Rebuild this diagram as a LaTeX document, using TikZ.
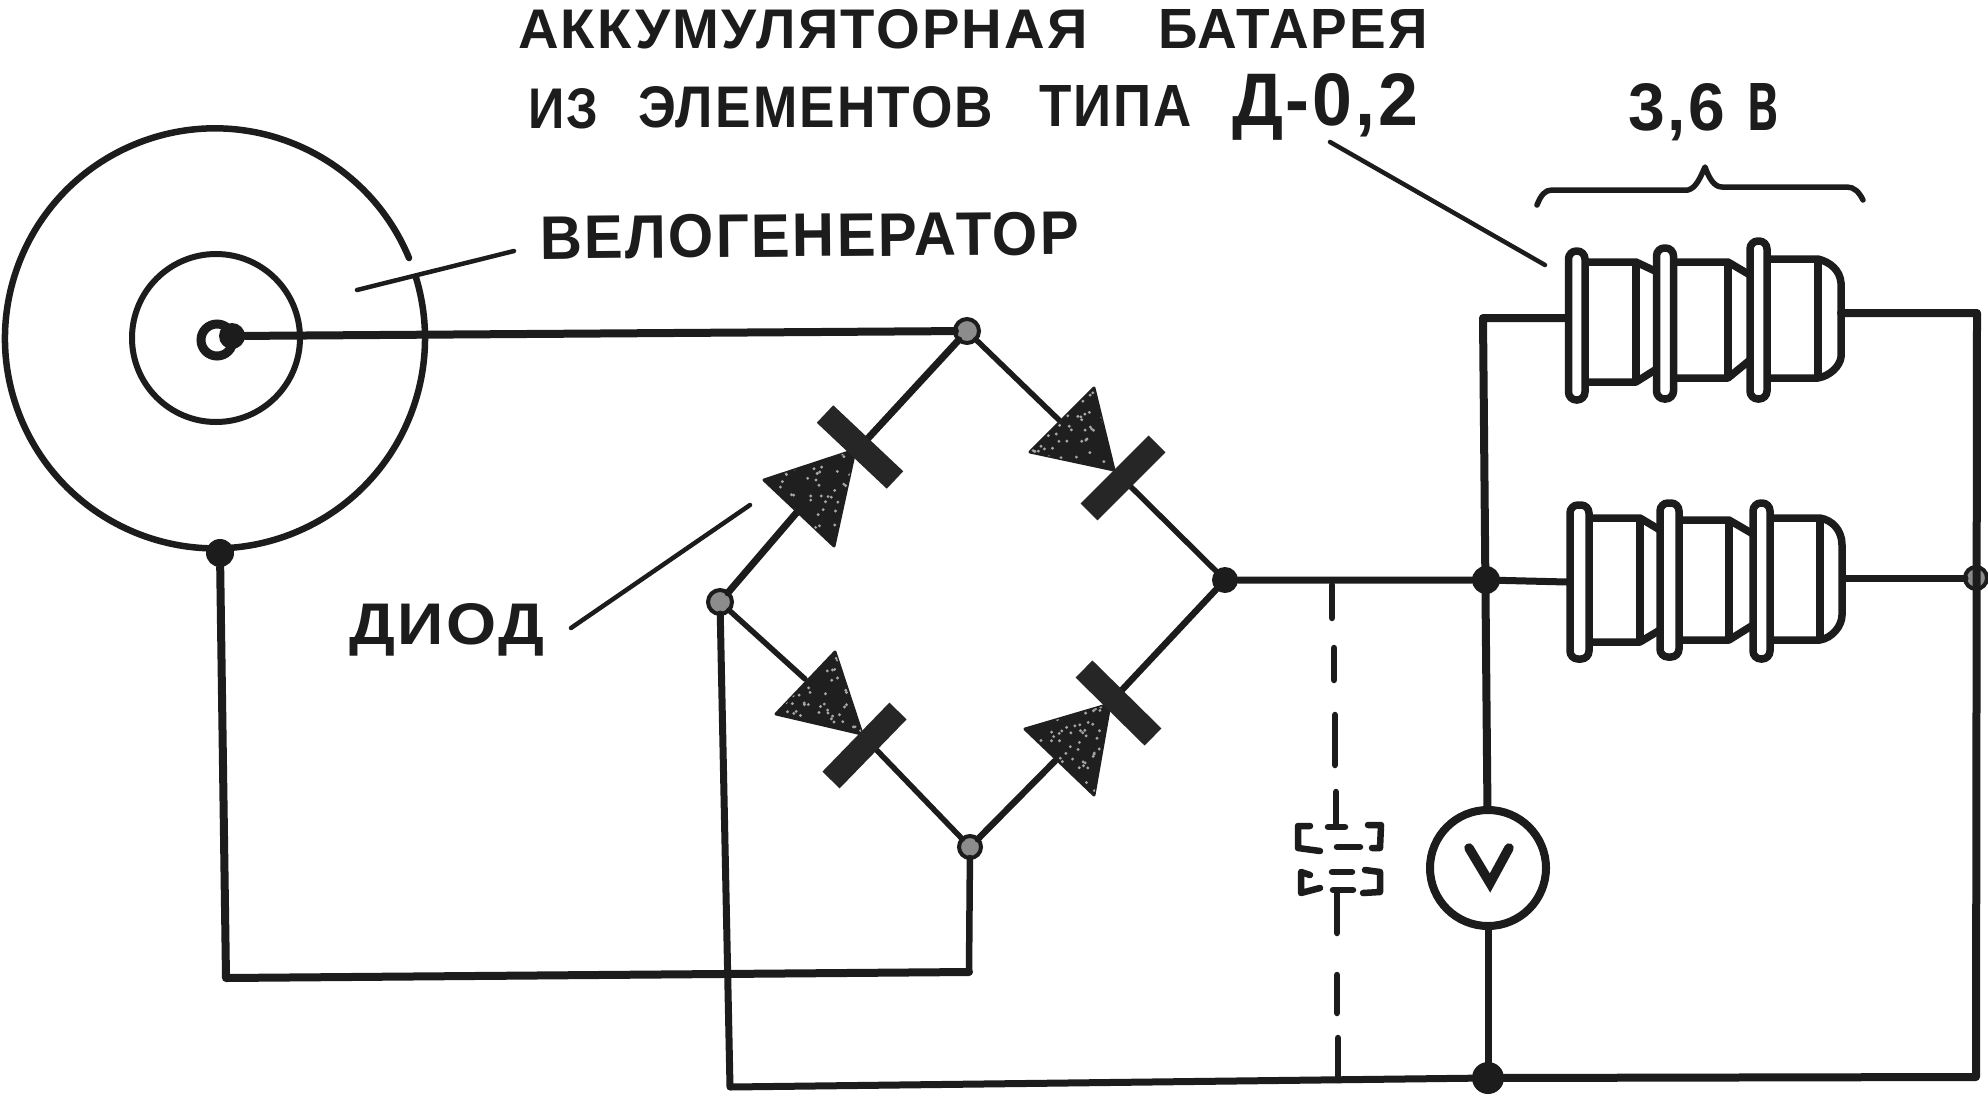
\documentclass[tikz,border=0pt]{standalone}
\usepackage{fontspec}
\usepackage{graphicx}
\newfontfamily\lab[LetterSpace=4]{Liberation Sans Bold}
\newdimen\pxu \pxu=0.02cm
\newcommand{\lbl}[6][0]{\node[lbltext,rotate=#1] (#2) at #3 {\resizebox{#4\pxu}{#5\pxu}{\lab #6}};}
\definecolor{ink}{HTML}{1C1C1C}
\newcommand{\speckled}[7]{%
  \draw[diode] (#1,#2) -- (#3,#4) -- (#5,#6) -- cycle;
  \begin{scope}
    \clip (#1,#2) -- (#3,#4) -- (#5,#6) -- cycle;
    \pgfmathsetseed{#7}
    \foreach \k in {1,...,70}{
      \pgfmathsetmacro{\sx}{min(#1,#3,#5)+rnd*(max(#1,#3,#5)-min(#1,#3,#5))}
      \pgfmathsetmacro{\sy}{min(#2,#4,#6)+rnd*(max(#2,#4,#6)-min(#2,#4,#6))}
      \fill[black!35] (\sx,\sy) circle[radius=1.6];
    }
  \end{scope}}
\tikzset{
  x=0.02cm,y=-0.02cm,
  lbltext/.style={anchor=base west,inner sep=0pt,outer sep=0pt,text=ink},
  wire/.style={draw=ink,line width=8*\pxu,line cap=round,line join=round},
  thinwire/.style={draw=ink,line width=5.5*\pxu,line cap=round,line join=round},
  leader/.style={draw=ink,line width=4.5*\pxu,line cap=round},
  batline/.style={draw=ink,line width=7.5*\pxu,line join=round},
  capring/.style={draw=ink,fill=white,line width=7.5*\pxu,rounded corners=8*\pxu},
  diode/.style={fill=black!88,draw=black!88,line width=3*\pxu,line join=round},
  diodebar/.style={draw=black!85,line width=24*\pxu,line cap=butt},
  dot/.style={circle,fill=ink,inner sep=0pt,outer sep=0pt,minimum size=#1*\pxu},
  gdot/.style={circle,fill=black!45,draw=ink,line width=4*\pxu,inner sep=0pt,outer sep=0pt,minimum size=#1*\pxu},
  dashpiece/.style={draw=ink,line width=6.5*\pxu,line cap=round,line join=round},
}
\begin{document}
\begin{tikzpicture}
\useasboundingbox (0,0) rectangle (1988,1099);
\fill[white] (0,0) rectangle (1988,1099);

% generator
\draw[draw=ink,line width=6.5*\pxu,line cap=round] (409,258) arc[start angle=-22.5,end angle=-377,radius=210];
\draw[draw=ink,line width=6*\pxu] (216,338) circle[radius=84];
\draw[draw=ink,line width=9*\pxu] (217,340) circle[radius=16];

% junctions
\node[gdot=24] (T) at (967,331) {};
\node[gdot=24] (L) at (720,602) {};
\node[dot=26] (R) at (1225,580) {};
\node[gdot=22] (B) at (970,847) {};
\node[dot=28] (G) at (220,553) {};
\node[dot=28] (J1) at (1486,580) {};
\node[gdot=22] (J2) at (1976,578) {};
\node[dot=32] (J3) at (1488,1078) {};
\node[dot=26] (Hub) at (232,336) {};

% voltmeter
\node[circle,draw=ink,fill=white,line width=8*\pxu,minimum size=116*\pxu,inner sep=0pt] (V) at (1488,868) {};
\coordinate (Va) at (1469,848);
\coordinate (Vb) at (1490,883);
\coordinate (Vc) at (1509,848);
\draw[draw=ink,line width=9.5*\pxu,line join=miter,line cap=round] (Va) -- (Vb) -- (Vc);

% corners
\coordinate (c1) at (226,978);
\coordinate (c2) at (969,972);
\coordinate (c3) at (730,1087);
\coordinate (c4) at (1976,1077);
\coordinate (c5) at (1977,313);
\coordinate (c6) at (1483,318);
\coordinate (bt1) at (1565,318);
\coordinate (bt2) at (1841,313);
\coordinate (bb1) at (1567,582);
\coordinate (bb2) at (1843,578);

% wiring
\draw[wire] (Hub) -- (T);
\draw[wire] (G) -- (c1) -- (c2);
\draw[thinwire,line width=6.5*\pxu] (B) -- (c2);
\draw[thinwire,line width=7*\pxu] (L) -- (c3) -- (J3);
\draw[wire] (J3) -- (c4) -- (c5) -- (bt2);
\draw[wire] (V) -- (c6) -- (bt1);
\draw[thinwire,line width=7*\pxu] (V) -- (J3);
\draw[wire,line width=7*\pxu] (R) -- (J1) -- (bb1);
\draw[wire,line width=7*\pxu] (bb2) -- (J2);

% bridge
\coordinate (aw) at (798,511); \coordinate (ab) at (860,447);
\coordinate (bw) at (1059,420); \coordinate (bb) at (1123,479);
\coordinate (cw) at (805,679); \coordinate (cb) at (865,738);
\coordinate (dw) at (1055,761); \coordinate (db) at (1121,691);
\draw[wire,line width=7*\pxu] (L) -- (aw);
\draw[wire,line width=7*\pxu] (ab) -- (T);
\draw[thinwire] (T) -- (bw);
\draw[thinwire] (bb) -- (R);
\draw[thinwire] (L) -- (cw);
\draw[thinwire] (cb) -- (B);
\draw[wire,line width=6.5*\pxu] (B) -- (dw);
\draw[wire,line width=6.5*\pxu] (db) -- (R);
\speckled{764}{480}{855}{450}{834}{546}{11}
\draw[diodebar] (825,414) -- (895,480);
\speckled{1030}{452}{1094}{388}{1114}{470}{22}
\draw[diodebar] (1089,512) -- (1157,444);
\speckled{776}{714}{835}{652}{862}{734}{33}
\draw[diodebar] (831,780) -- (898,711);
\speckled{1025}{729}{1110}{704}{1094}{795}{44}
\draw[diodebar] (1084,669) -- (1153,737);

% leaders
\draw[leader] (357,290) -- (514,251);
\draw[leader] (571,628) -- (750,505);
\draw[leader] (1330,142) -- (1545,265);

% brace
\draw[draw=ink,line width=5.5*\pxu,line cap=round,line join=round] (1537,205) .. controls (1541,195) and (1545,190) .. (1552,190) -- (1688,190) .. controls (1696,188) and (1700,178) .. (1705,167) .. controls (1709,178) and (1714,187) .. (1722,187) -- (1847,187) .. controls (1854,187) and (1859,192) .. (1863,200);

% top battery
\draw[batline] (1585,262) -- (1636,262) -- (1655,271);
\draw[batline] (1585,382) -- (1636,382) -- (1655,370);
\draw[batline] (1636,262) -- (1636,382);
\draw[batline] (1673,262) -- (1728,262) -- (1750,275);
\draw[batline] (1673,378) -- (1728,378) -- (1750,360);
\draw[batline] (1728,262) -- (1728,378);
\draw[batline] (1767,259) -- (1818,259) .. controls (1830,262) and (1840,270) .. (1841,283) -- (1841,357) .. controls (1840,366) and (1830,376) .. (1818,378) -- (1767,378);
\draw[batline] (1818,259) -- (1818,378);
\draw[capring] (1568.5,251) rectangle (1585,400);
\draw[capring] (1656.5,248) rectangle (1673.5,399);
\draw[capring] (1750,241) rectangle (1767,399);

% bottom battery
\draw[batline] (1589,518) -- (1640,518) -- (1660,530);
\draw[batline] (1589,642) -- (1640,642) -- (1660,630);
\draw[batline] (1640,518) -- (1640,642);
\draw[batline] (1679,520) -- (1729,520) -- (1753,534);
\draw[batline] (1679,640) -- (1729,640) -- (1753,625);
\draw[batline] (1729,520) -- (1729,640);
\draw[batline] (1770,518) -- (1820,518) .. controls (1832,520) and (1842,530) .. (1842,545) -- (1842,615) .. controls (1842,626) and (1832,638) .. (1820,640) -- (1770,640);
\draw[batline] (1820,518) -- (1820,640);
\draw[capring] (1570,505) rectangle (1589,659);
\draw[capring] (1660,503) rectangle (1679,657);
\draw[capring] (1753,503) rectangle (1770,659);

% capacitor (dashed)
\draw[dashpiece] (1332,585) -- (1332,618);
\draw[dashpiece] (1334,648) -- (1334,680);
\draw[dashpiece] (1335,715) -- (1335,765);
\draw[dashpiece] (1336,792) -- (1336,825);
\draw[dashpiece] (1328,827) -- (1345,827);
\draw[dashpiece] (1310,826) -- (1298,826) -- (1298,848) -- (1320,851);
\draw[dashpiece] (1368,825) -- (1381,825) -- (1380,848) -- (1372,848);
\draw[dashpiece] (1337,847) -- (1360,847);
\draw[dashpiece] (1332,872) -- (1352,872);
\draw[dashpiece] (1310,875) -- (1301,872) -- (1301,893) -- (1320,888);
\draw[dashpiece] (1365,870) -- (1380,872) -- (1380,892) -- (1363,893);
\draw[dashpiece] (1333,890) -- (1353,890);
\draw[dashpiece] (1337,893) -- (1337,933);
\draw[dashpiece] (1337,975) -- (1337,1013);
\draw[dashpiece] (1338,1038) -- (1338,1080);

% texts
\lbl{t1}{(518,48)}{570}{39}{АККУМУЛЯТОРНАЯ}
\lbl{t2}{(1158,48)}{270}{39}{БАТАРЕЯ}
\lbl{t3}{(528,128)}{70}{40}{ИЗ}
\lbl{t4}{(638,127)}{355}{41}{ЭЛЕМЕНТОВ}
\lbl{t5}{(1039,126)}{153}{41}{ТИПА}
\lbl{t6}{(1232,125)}{186}{52}{Д-0,2}
\lbl[0.5]{t7}{(540,259)}{539}{43}{ВЕЛОГЕНЕРАТОР}
\lbl{t8}{(349,644)}{195}{41}{ДИОД}
\lbl{t9}{(1628,130)}{97}{47}{3,6}
\lbl{t10}{(1747,130)}{31}{47}{в}
\end{tikzpicture}
\end{document}
